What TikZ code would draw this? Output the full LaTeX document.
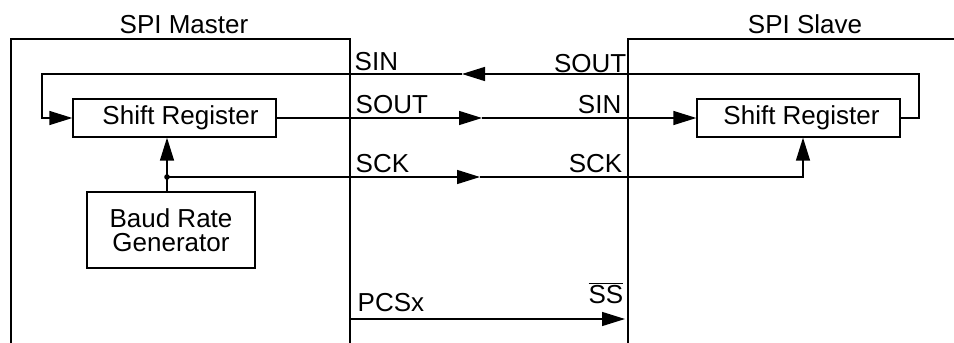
\documentclass[tikz,border=0pt]{standalone}
\usepackage{fontspec}
\setmainfont{Liberation Sans}
\usetikzlibrary{arrows.meta}
\begin{document}
\begin{tikzpicture}[x=1pt,y=-1pt,
  font=\fontsize{26}{24}\selectfont,
  line width=1.4pt,
  >={Triangle[length=23pt,width=14pt]},
  frame/.style={line width=2.2pt},
  reg/.style={draw, line width=1.3pt, minimum width=203pt, minimum height=38pt, inner sep=0pt},
  lbl/.style={inner sep=0pt}]
\useasboundingbox (0,0) rectangle (954,343);
% frames
\draw[frame] (11,343) -- (11,39) -- (350,39) -- (350,343);
\draw[frame] (954,39) -- (628,39) -- (628,343);
\node[lbl, anchor=base] (tm) at (184,33) {SPI Master};
\node[lbl, anchor=base] (ts) at (805,33) {SPI Slave};
% blocks
\node[reg] (msr) at (174.5,118) {\hspace*{12pt}Shift Register};
\node[reg] (ssr) at (798.5,118) {\hspace*{6pt}Shift Register};
\node[reg, align=center, minimum width=168pt, minimum height=76pt] (brg) at (171,230) {Baud Rate\\Generator};
% coordinates
\coordinate (j) at (167,177);
\coordinate (sinR) at (919,74);
\coordinate (sinM) at (462,74);
\coordinate (sinL) at (42,74);
\coordinate (soutM) at (482,118);
\coordinate (sckM) at (480,177);
\coordinate (sckR) at (803,177);
\coordinate (pcsL) at (350,319);
\coordinate (pcsR) at (625,319);
% SIN / SOUT loop
\draw[->] (ssr.east) -| (sinR) -- (sinM);
\draw[->] (sinM) -- (sinL) |- (msr.west);
\draw[->] (msr.east) -- (soutM);
\draw[->] (soutM) -- (ssr.west);
% SCK
\draw[->] (j) -- (sckM);
\draw[->] (sckM) -- (sckR) -- (sckR |- ssr.south);
\draw[->] (j |- brg.north) -- (j |- msr.south);
\fill (j) circle (2.8pt);
% PCS
\draw[->] (pcsL) -- (pcsR);
% labels
\node[lbl, anchor=base west] (l1) at (354,70) {SIN};
\node[lbl, anchor=base west] (l2) at (355,113) {SOUT};
\node[lbl, anchor=base west] (l3) at (355,172) {SCK};
\node[lbl, anchor=base west] (l4) at (357,311) {PCSx};
\node[lbl, anchor=base east] (r1) at (627,72) {SOUT};
\node[lbl, anchor=base east] (r2) at (622,113) {SIN};
\node[lbl, anchor=base east] (r3) at (623,172) {SCK};
\node[lbl, anchor=base east] (r4) at (624,303) {$\overline{\mbox{SS}}$};
\end{tikzpicture}
\end{document}
